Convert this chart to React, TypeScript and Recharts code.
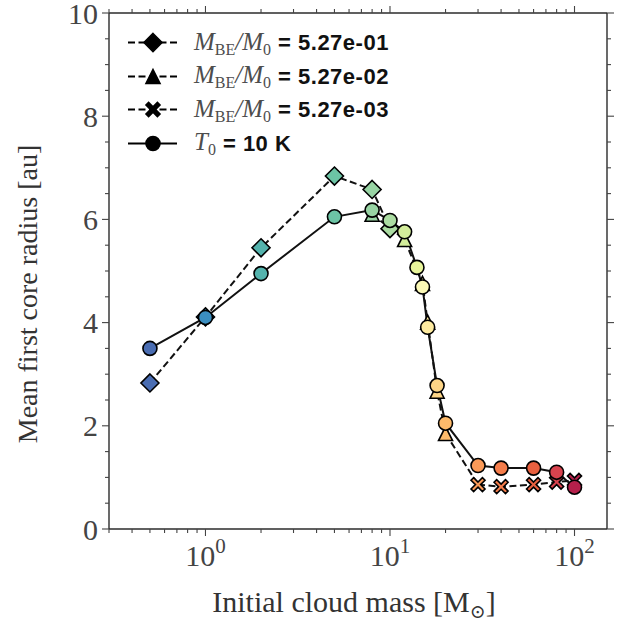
import React from 'react';
import { LineChart, Line, XAxis, YAxis } from 'recharts';

// mean first core radius [au] vs initial cloud mass [Msun]
const massDiamond = [0.5, 1, 2, 5, 8, 10];
const radiusDiamond = [2.83, 4.11, 5.45, 6.84, 6.58, 5.82];

const massTriangle = [8, 12, 15, 16, 18, 20];
const radiusTriangle = [6.1, 5.61, 4.76, 4.01, 2.67, 1.85];

const massCross = [30, 40, 60, 80, 100];
const radiusCross = [0.86, 0.82, 0.86, 0.91, 0.94];

const massCircle = [0.5, 1, 2, 5, 8, 10, 12, 14, 15, 16, 18, 20, 30, 40, 60, 80, 100];
const radiusCircle = [3.5, 4.1, 4.95, 6.05, 6.18, 5.98, 5.76, 5.07, 4.69, 3.91, 2.78, 2.05, 1.23, 1.18, 1.18, 1.1, 0.81];

const ratioLabels = ['5.27e-01', '5.27e-02', '5.27e-03'];
const tempLabel = '10 K';

// marker fill per cloud mass (Spectral_r)
const massColors: Record<number, string> = {
  0.5: '#4a6db2',
  1: '#3b8ec0',
  2: '#54b3ad',
  5: '#6cc4a5',
  8: '#98d4a4',
  10: '#abdca2',
  12: '#d3ed9b',
  14: '#e8f59b',
  15: '#fbf9b6',
  16: '#feeba0',
  18: '#fdd587',
  20: '#fdba6b',
  30: '#fa9a58',
  40: '#f57d4b',
  60: '#e8603f',
  80: '#d8434e',
  100: '#b5204b',
};

const xMajor = [1, 10, 100];
const xMinor = [0.3, 0.4, 0.5, 0.6, 0.7, 0.8, 0.9, 2, 3, 4, 5, 6, 7, 8, 9, 20, 30, 40, 50, 60, 70, 80, 90];
const yMajor = [0, 2, 4, 6, 8, 10];
const yMinor = [0.5, 1, 1.5, 2.5, 3, 3.5, 4.5, 5, 5.5, 6.5, 7, 7.5, 8.5, 9, 9.5];

const toPoints = (ms: number[], rs: number[]) => ms.map((m, i) => ({ m, r: rs[i] }));
const diamondData = toPoints(massDiamond, radiusDiamond);
const triangleData = toPoints(massTriangle, radiusTriangle);
const crossData = toPoints(massCross, radiusCross);
const circleData = toPoints(massCircle, radiusCircle);
const bridgeData = [triangleData[triangleData.length - 1], crossData[0]];

const xTicks = [...xMinor, ...xMajor].sort((a, b) => a - b);
const yTicks = [...yMinor, ...yMajor].sort((a, b) => a - b);

const SPINE = '#2b2b2b';
const TICK = '#444';
const SERIF = '"Liberation Serif", "DejaVu Serif", serif';
const SANS = '"Liberation Sans", Arial, sans-serif';

type Shape = 'diamond' | 'triangle' | 'cross' | 'circle';

const Marker = ({ shape, cx, cy, fill }: { shape: Shape; cx: number; cy: number; fill: string }) => {
  const sw = 1.6;
  if (shape === 'diamond') {
    const d = 9;
    return <polygon points={`${cx},${cy - d} ${cx + d},${cy} ${cx},${cy + d} ${cx - d},${cy}`} fill={fill} stroke="#000" strokeWidth={sw} />;
  }
  if (shape === 'triangle') {
    const s = 7;
    return <polygon points={`${cx},${cy - s} ${cx + s},${cy + s} ${cx - s},${cy + s}`} fill={fill} stroke="#000" strokeWidth={sw} />;
  }
  if (shape === 'cross') {
    const a = 7;
    const w = 2.6;
    const pts = [
      [0, -w], [a - w, -a], [a, -a + w], [w, 0], [a, a - w], [a - w, a],
      [0, w], [-a + w, a], [-a, a - w], [-w, 0], [-a, -a + w], [-a + w, -a],
    ].map(([px, py]) => `${cx + px},${cy + py}`).join(' ');
    return <polygon points={pts} fill={fill} stroke="#000" strokeWidth={sw} />;
  }
  return <circle cx={cx} cy={cy} r={7} fill={fill} stroke="#000" strokeWidth={sw} />;
};

const dotFor = (shape: Shape) => (props: any) => {
  const { cx, cy, payload, index } = props;
  if (cx == null || cy == null) return <g key={`${shape}-${index}`} />;
  return (
    <g key={`${shape}-${index}`}>
      <Marker shape={shape} cx={cx} cy={cy} fill={massColors[payload.m] || '#999'} />
    </g>
  );
};

const XTick = ({ x, y, payload, side }: any) => {
  const v = payload.value;
  const major = xMajor.includes(v);
  const len = major ? 7 : 4;
  const dir = side === 'top' ? -1 : 1;
  const exp = Math.round(Math.log10(v));
  return (
    <g>
      <line x1={x} x2={x} y1={y} y2={y + dir * len} stroke={TICK} strokeWidth={1.1} />
      {major && side === 'bottom' && (
        <text x={x} y={y + 37} textAnchor="middle" fill="#444" fontFamily={SERIF} fontSize={30}>
          10
          <tspan dy={-13} fontSize={21}>{exp}</tspan>
        </text>
      )}
    </g>
  );
};

const YTick = ({ x, y, payload, side }: any) => {
  const v = payload.value;
  const major = yMajor.includes(v);
  const len = major ? 7 : 4;
  const dir = side === 'left' ? -1 : 1;
  return (
    <g>
      <line x1={x} x2={x + dir * len} y1={y} y2={y} stroke={TICK} strokeWidth={1.1} />
      {major && side === 'left' && (
        <text x={x - 11} y={y + 10.5} textAnchor="end" fill="#444" fontFamily={SERIF} fontSize={30}>
          {v}
        </text>
      )}
    </g>
  );
};

const legendRows: { shape: Shape; dashed: boolean; kind: 'ratio' | 'temp'; value: string }[] = [
  { shape: 'diamond', dashed: true, kind: 'ratio', value: ratioLabels[0] },
  { shape: 'triangle', dashed: true, kind: 'ratio', value: ratioLabels[1] },
  { shape: 'cross', dashed: true, kind: 'ratio', value: ratioLabels[2] },
  { shape: 'circle', dashed: false, kind: 'temp', value: tempLabel },
];

const subStyle: React.CSSProperties = { fontStyle: 'normal', fontSize: 16, position: 'relative', top: 5 };

const ChartLegend = () => (
  <div style={{ position: 'absolute', left: 126, top: 26, width: 340 }}>
    {legendRows.map((row, i) => (
      <div key={i} style={{ position: 'absolute', left: 0, top: i * 33.6, height: 33, display: 'flex', alignItems: 'center', whiteSpace: 'nowrap' }}>
        <svg width={54} height={33} style={{ display: 'block' }}>
          <line x1={2} x2={51} y1={16.5} y2={16.5} stroke="#000" strokeWidth={2} strokeDasharray={row.dashed ? '7 3.5' : undefined} />
          <Marker shape={row.shape} cx={27} cy={16.5} fill="#000" />
        </svg>
        <span style={{ marginLeft: 14, fontFamily: SERIF, fontSize: 25, color: '#4d4d4d', fontStyle: 'italic', lineHeight: '33px' }}>
          {row.kind === 'ratio' ? (
            <>
              M<span style={subStyle}>BE</span>/M<span style={subStyle}>0</span>
            </>
          ) : (
            <>
              T<span style={subStyle}>0</span>
            </>
          )}
        </span>
        <span style={{ marginLeft: 7, fontFamily: SANS, fontWeight: 700, fontSize: 22, letterSpacing: 0.5, color: '#111', lineHeight: '33px' }}>
          = {row.value}
        </span>
      </div>
    ))}
  </div>
);

const AxisTitles = () => (
  <svg width={628} height={624} style={{ position: 'absolute', left: 0, top: 0, pointerEvents: 'none' }}>
    <text x={0} y={0} transform="translate(27 294) rotate(-90)" textAnchor="middle" dominantBaseline="central" fontFamily={SERIF} fontSize={28} fill="#333">
      Mean first core radius [au]
    </text>
    <text x={354} y={612} textAnchor="middle" fontFamily={SERIF} fontSize={30} fill="#333">
      Initial cloud mass [M
      <tspan fontSize={19} dy={6}>⊙</tspan>
      <tspan dy={-6}>]</tspan>
    </text>
  </svg>
);

const App: React.FC = () => {
  return (
    <div style={{ position: 'absolute', left: 0, top: 0, width: 628, height: 624, background: '#fff' }}>
      <LineChart width={628} height={624} margin={{ top: 0, right: 0, bottom: 0, left: 0 }}>
        <XAxis
          xAxisId="b"
          type="number"
          dataKey="m"
          scale="log"
          domain={[0.3, 150]}
          allowDataOverflow
          ticks={xTicks}
          interval={0}
          height={95}
          tickSize={0}
          tickMargin={0}
          tick={(p: any) => <XTick {...p} side="bottom" />}
          axisLine={{ stroke: SPINE, strokeWidth: 1.4 }}
        />
        <XAxis
          xAxisId="t"
          orientation="top"
          type="number"
          dataKey="m"
          scale="log"
          domain={[0.3, 150]}
          allowDataOverflow
          ticks={xTicks}
          interval={0}
          height={13}
          tickSize={0}
          tickMargin={0}
          tick={(p: any) => <XTick {...p} side="top" />}
          axisLine={{ stroke: SPINE, strokeWidth: 1.4 }}
        />
        <YAxis
          yAxisId="l"
          type="number"
          domain={[0, 10]}
          allowDataOverflow
          ticks={yTicks}
          interval={0}
          width={109}
          tickSize={0}
          tickMargin={0}
          tick={(p: any) => <YTick {...p} side="left" />}
          axisLine={{ stroke: SPINE, strokeWidth: 1.4 }}
        />
        <YAxis
          yAxisId="r"
          orientation="right"
          type="number"
          domain={[0, 10]}
          allowDataOverflow
          ticks={yTicks}
          interval={0}
          width={21}
          tickSize={0}
          tickMargin={0}
          tick={(p: any) => <YTick {...p} side="right" />}
          axisLine={{ stroke: SPINE, strokeWidth: 1.4 }}
        />
        <Line xAxisId="b" yAxisId="l" data={diamondData} dataKey="r" stroke="#111" strokeWidth={2} strokeDasharray="7 3.5" dot={dotFor('diamond')} activeDot={false} isAnimationActive={false} />
        <Line xAxisId="b" yAxisId="l" data={triangleData} dataKey="r" stroke="#111" strokeWidth={2} strokeDasharray="7 3.5" dot={dotFor('triangle')} activeDot={false} isAnimationActive={false} />
        <Line xAxisId="b" yAxisId="l" data={bridgeData} dataKey="r" stroke="#111" strokeWidth={2} strokeDasharray="7 3.5" dot={false} activeDot={false} isAnimationActive={false} />
        <Line xAxisId="b" yAxisId="l" data={crossData} dataKey="r" stroke="#111" strokeWidth={2} strokeDasharray="7 3.5" dot={dotFor('cross')} activeDot={false} isAnimationActive={false} />
        <Line xAxisId="b" yAxisId="l" data={circleData} dataKey="r" stroke="#111" strokeWidth={2} dot={dotFor('circle')} activeDot={false} isAnimationActive={false} />
      </LineChart>
      <AxisTitles />
      <ChartLegend />
    </div>
  );
};

export default App;
